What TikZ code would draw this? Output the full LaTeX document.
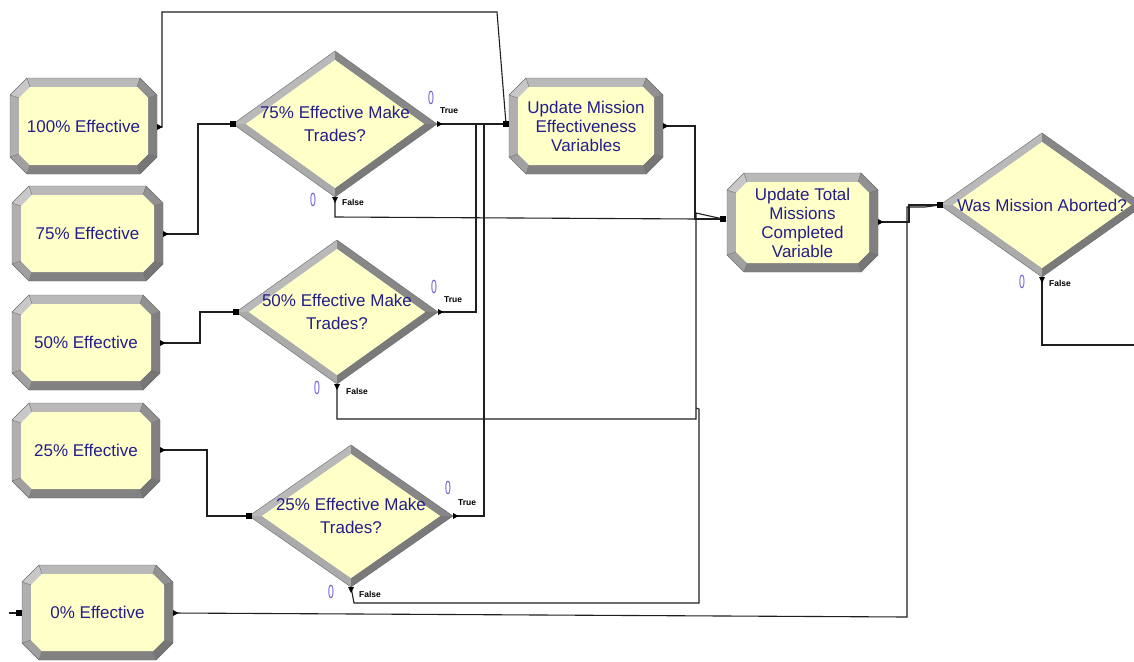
\documentclass[tikz,border=0pt]{standalone}
\usepackage{fontspec}
\usepackage{graphicx}
\setmainfont{Liberation Sans}
\usetikzlibrary{calc}

\definecolor{modfill}{RGB}{255,255,200}
\definecolor{modtext}{RGB}{35,30,140}
\definecolor{cntcol}{RGB}{115,90,205}
\definecolor{bvT}{RGB}{185,185,185}
\definecolor{bvTL}{RGB}{200,200,200}
\definecolor{bvL}{RGB}{175,175,175}
\definecolor{bvBL}{RGB}{160,160,160}
\definecolor{bvB}{RGB}{130,130,130}
\definecolor{bvBR}{RGB}{118,118,118}
\definecolor{bvR}{RGB}{128,128,128}
\definecolor{bvTR}{RGB}{145,145,145}
\definecolor{bvEdge}{RGB}{105,105,105}
\definecolor{dUL}{RGB}{185,185,185}
\definecolor{dLL}{RGB}{170,170,170}
\definecolor{dUR}{RGB}{135,135,135}
\definecolor{dLR}{RGB}{122,122,122}

% Process module: chamfered box with a bevelled frame
% #1 name, #2 left, #3 top, #4 right, #5 bottom, #6 label
\newcommand\modbox[6]{%
  \coordinate (#1-o1) at ({#2+17},#3);
  \coordinate (#1-o2) at ({#4-17},#3);
  \coordinate (#1-o3) at (#4,{#3+17});
  \coordinate (#1-o4) at (#4,{#5-17});
  \coordinate (#1-o5) at ({#4-17},#5);
  \coordinate (#1-o6) at ({#2+17},#5);
  \coordinate (#1-o7) at (#2,{#5-17});
  \coordinate (#1-o8) at (#2,{#3+17});
  \coordinate (#1-i1) at ({#2+20},{#3+9});
  \coordinate (#1-i2) at ({#4-20},{#3+9});
  \coordinate (#1-i3) at ({#4-9},{#3+20});
  \coordinate (#1-i4) at ({#4-9},{#5-20});
  \coordinate (#1-i5) at ({#4-20},{#5-9});
  \coordinate (#1-i6) at ({#2+20},{#5-9});
  \coordinate (#1-i7) at ({#2+9},{#5-20});
  \coordinate (#1-i8) at ({#2+9},{#3+20});
  \fill[bvT]  (#1-o1)--(#1-o2)--(#1-i2)--(#1-i1)--cycle;
  \fill[bvTR] (#1-o2)--(#1-o3)--(#1-i3)--(#1-i2)--cycle;
  \fill[bvR]  (#1-o3)--(#1-o4)--(#1-i4)--(#1-i3)--cycle;
  \fill[bvBR] (#1-o4)--(#1-o5)--(#1-i5)--(#1-i4)--cycle;
  \fill[bvB]  (#1-o5)--(#1-o6)--(#1-i6)--(#1-i5)--cycle;
  \fill[bvBL] (#1-o6)--(#1-o7)--(#1-i7)--(#1-i6)--cycle;
  \fill[bvL]  (#1-o7)--(#1-o8)--(#1-i8)--(#1-i7)--cycle;
  \fill[bvTL] (#1-o8)--(#1-o1)--(#1-i1)--(#1-i8)--cycle;
  \draw[bvedge] (#1-o1)--(#1-i1) (#1-o2)--(#1-i2) (#1-o3)--(#1-i3) (#1-o4)--(#1-i4)
                (#1-o5)--(#1-i5) (#1-o6)--(#1-i6) (#1-o7)--(#1-i7) (#1-o8)--(#1-i8);
  \draw[bvedge] (#1-o1)--(#1-o2)--(#1-o3)--(#1-o4)--(#1-o5)--(#1-o6)--(#1-o7)--(#1-o8)--cycle;
  \fill[modfill] (#1-i1)--(#1-i2)--(#1-i3)--(#1-i4)--(#1-i5)--(#1-i6)--(#1-i7)--(#1-i8)--cycle;
  \node[modlabel] (#1) at ({(#2+#4)/2},{(#3+#5)/2}) {#6};
}

% Decision module corner points
% #1 name, #2 centre x, #3 centre y, #4 half width, #5 half height
\newcommand\decisionpts[5]{%
  \coordinate (#1-c)     at (#2,#3);
  \coordinate (#1-in)    at ({#2-#4},#3);
  \coordinate (#1-top)   at (#2,{#3-#5});
  \coordinate (#1-true)  at ({#2+#4},#3);
  \coordinate (#1-false) at (#2,{#3+#5});
  \coordinate (#1-iL) at ({#2-#4+13},#3);
  \coordinate (#1-iT) at (#2,{#3-#5+9});
  \coordinate (#1-iR) at ({#2+#4-13},#3);
  \coordinate (#1-iB) at (#2,{#3+#5-9});
}
% Decision module body: bevelled diamond with its label
\newcommand\decision[2]{%
  \fill[dUL] (#1-in)--(#1-top)--(#1-iT)--(#1-iL)--cycle;
  \fill[dLL] (#1-in)--(#1-false)--(#1-iB)--(#1-iL)--cycle;
  \fill[dUR] (#1-top)--(#1-true)--(#1-iR)--(#1-iT)--cycle;
  \fill[dLR] (#1-true)--(#1-false)--(#1-iB)--(#1-iR)--cycle;
  \draw[bvedge] (#1-in)--(#1-top)--(#1-true)--(#1-false)--cycle;
  \fill[modfill] (#1-iL)--(#1-iT)--(#1-iR)--(#1-iB)--cycle;
  \node[declabel] (#1) at (#1-c) {#2};
}

% connection points
\newcommand\exitR[1]{\fill[black] (#1) ++(0,-3) -- ++(5.5,3) -- ++(-5.5,3) -- cycle;}
\newcommand\exitD[1]{\fill[black] (#1) ++(-3,0) -- ++(6,0) -- ++(-3,6) -- cycle;}
\newcommand\entry[1]{\fill[black] (#1) ++(-2.8,-2.8) rectangle ++(5.6,5.6);}
\newcommand\cntzero{\scalebox{0.55}[1]{0}}

\begin{document}
\begin{tikzpicture}[x=1pt,y=-1pt,
  modlabel/.style={text=modtext, align=center, inner sep=0pt,
    font=\fontsize{17}{19}\selectfont},
  declabel/.style={text=modtext, align=center, inner sep=0pt,
    font=\fontsize{17}{22.5}\selectfont},
  bvedge/.style={draw=bvEdge, line width=0.4pt},
  conn/.style={draw=black!88, line width=1.1pt},
  cnt/.style={text=cntcol, inner sep=0pt, font=\fontsize{19}{19}\selectfont},
  tf/.style={text=black, inner sep=0pt, anchor=west,
    font=\fontsize{8.5}{9}\selectfont\bfseries}]

\useasboundingbox (0,0) rectangle (1134,661);
\clip (0,0) rectangle (1134,661);
\fill[white] (0,0) rectangle (1134,661);

% ---------- connection points ----------
\coordinate (b100-out) at (157,127);
\coordinate (b75-out)  at (163,234);
\coordinate (b50-out)  at (160,343);
\coordinate (b25-out)  at (160,450);
\coordinate (b0-out)   at (173,613);
\coordinate (b0-in)    at (19,613);
\coordinate (b0-stub)  at (9,613);
\coordinate (um-in)    at (506,124);
\coordinate (um-out)   at (663,126);
\coordinate (ut-in)    at (723,219);
\coordinate (ut-out)   at (878,222);
\coordinate (dwas-off) at (1134,345);

\decisionpts{d75}{335}{124}{102}{73}
\decisionpts{d50}{337}{312}{101}{72}
\decisionpts{d25}{351}{516}{102}{71}
\decisionpts{dwas}{1042}{205}{102}{72}

% ---------- connectors ----------
\draw[conn] (b100-out) -- ++(5,0) |- (497,12) -- (um-in);
\draw[conn] (b75-out) -- (198,234) |- (d75-in);
\draw[conn] (b50-out) -- (200,343) |- (d50-in);
\draw[conn] (b25-out) -- (207,450) |- (d25-in);
\draw[conn] (b0-stub) -- (b0-in);
\draw[conn] (b0-out) -- (907,617) |- (925,207) -- (dwas-in);

\draw[conn] (d75-true) -- (um-in);
\draw[conn] (d50-true) -| (476,124) -- (um-in);
\draw[conn] (d25-true) -| (484,124) -- (um-in);

\draw[conn] (d75-false) -- (335,217) -- (697,219) -- (ut-in);
\draw[conn] (d50-false) |- (696,419) -- (696,213) -- (ut-in);
\draw[conn] (d25-false) -- (354,603) -- (699,603) -- (699,409) -- (696,408);
\draw[conn] (um-out) -- (695,126) -- (695,219) -- (ut-in);
\draw[conn] (ut-out) -- (909,222) |- (dwas-in);
\draw[conn] (dwas-false) |- (dwas-off);

% ---------- modules ----------
\modbox{b100}{10}{78}{157}{174}{100\% Effective}
\modbox{b75}{12}{186}{163}{281}{75\% Effective}
\modbox{b50}{12}{295}{160}{390}{50\% Effective}
\modbox{b25}{12}{403}{160}{498}{25\% Effective}
\modbox{b0}{22}{565}{173}{660}{0\% Effective}
\modbox{um}{509}{78}{663}{174}{Update Mission\\Effectiveness\\Variables}
\modbox{ut}{727}{173}{878}{272}{Update Total\\Missions\\Completed\\Variable}

\decision{d75}{75\% Effective Make\\Trades?}
\decision{d50}{50\% Effective Make\\Trades?}
\decision{d25}{25\% Effective Make\\Trades?}
\decision{dwas}{Was Mission Aborted?}

% ---------- entry and exit points ----------
\exitR{b100-out} \exitR{b75-out} \exitR{b50-out} \exitR{b25-out} \exitR{b0-out}
\exitR{um-out} \exitR{ut-out}
\exitR{d75-true} \exitR{d50-true} \exitR{d25-true}
\exitD{d75-false} \exitD{d50-false} \exitD{d25-false} \exitD{dwas-false}
\entry{um-in} \entry{ut-in} \entry{b0-in}
\entry{d75-in} \entry{d50-in} \entry{d25-in} \entry{dwas-in}

% ---------- branch labels and counters ----------
\node[cnt] (c75t) at (431,98) {\cntzero};
\node[tf] (l75t) at (440,111) {True};
\node[cnt] (c75f) at (313,200) {\cntzero};
\node[tf] (l75f) at (342,202) {False};
\node[cnt] (c50t) at (434,287) {\cntzero};
\node[tf] (l50t) at (444,300) {True};
\node[cnt] (c50f) at (317,388) {\cntzero};
\node[tf] (l50f) at (346,391) {False};
\node[cnt] (c25t) at (448,488) {\cntzero};
\node[tf] (l25t) at (458,503) {True};
\node[cnt] (c25f) at (331,592) {\cntzero};
\node[tf] (l25f) at (359,594) {False};
\node[cnt] (cwf) at (1022,282) {\cntzero};
\node[tf] (lwf) at (1049,283) {False};
\end{tikzpicture}
\end{document}
